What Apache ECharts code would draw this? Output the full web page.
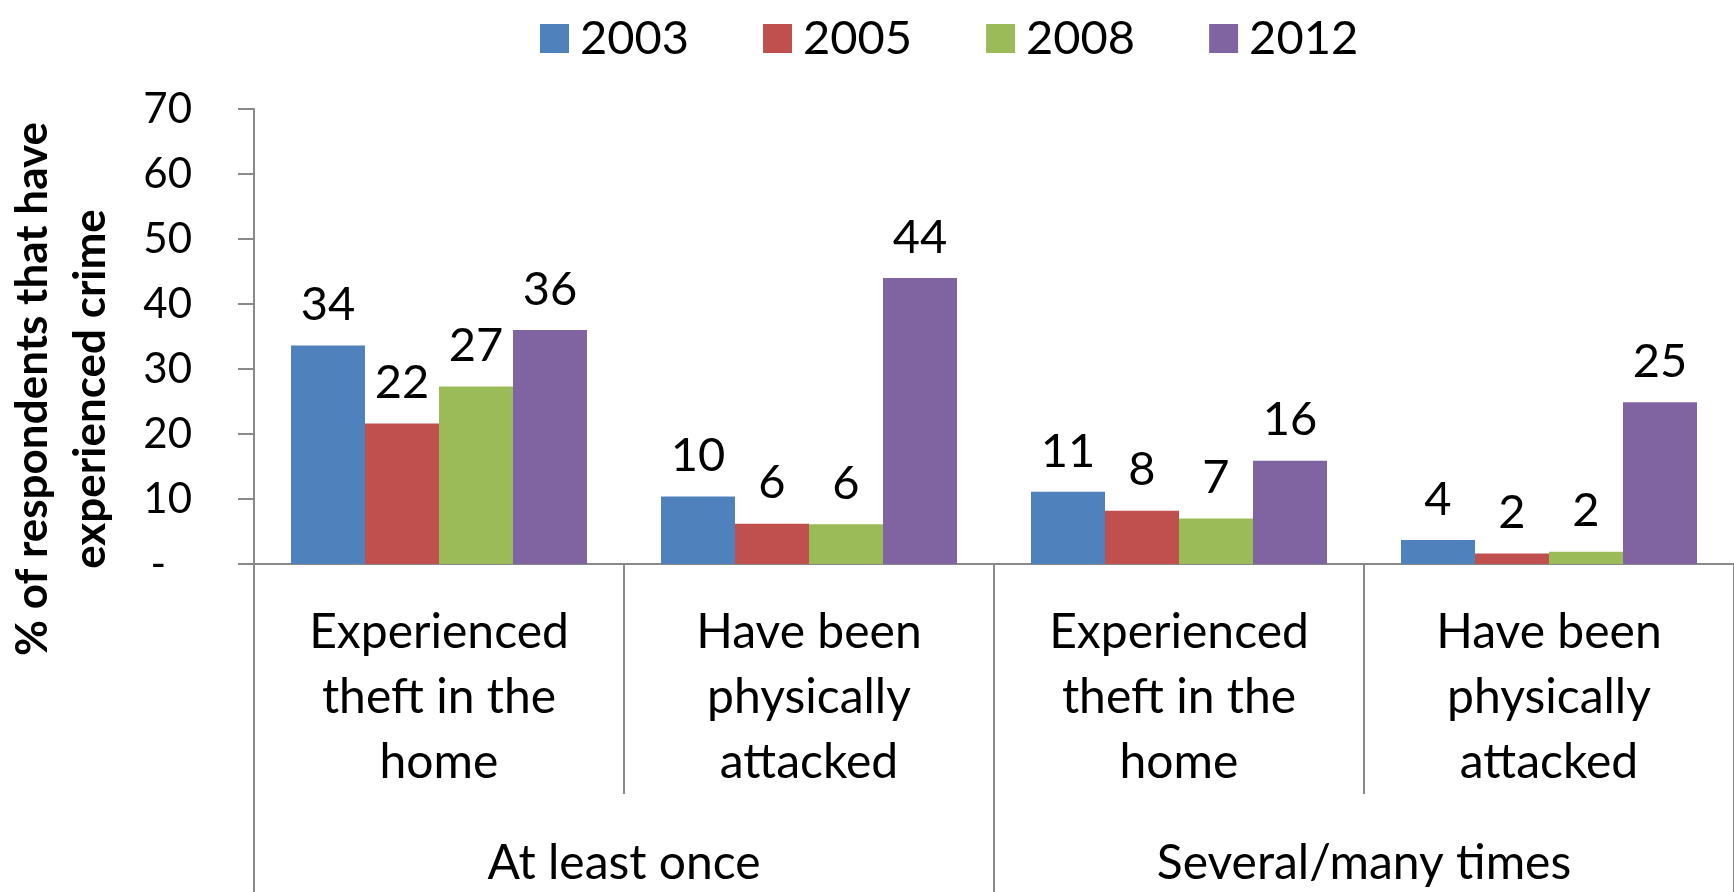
<!DOCTYPE html>
<html>
<head>
<meta charset="utf-8">
<script src="https://cdn.jsdelivr.net/npm/echarts@6/dist/echarts.min.js"></script>
<style>
html,body{margin:0;padding:0;background:#fff;}
#c{width:1734px;height:892px;}
</style>
</head>
<body>
<div id="c"></div>
<script>
const categories = ["Experienced\ntheft in the\nhome", "Have been\nphysically\nattacked", "Experienced\ntheft in the\nhome", "Have been\nphysically\nattacked"];
const groups = ["At least once", "Several/many times"];
const years = ["2003", "2005", "2008", "2012"];
const v2003 = [33.6, 10.4, 11.1, 3.7];
const v2005 = [21.6, 6.2, 8.2, 1.6];
const v2008 = [27.3, 6.1, 7.0, 1.9];
const v2012 = [36.0, 44.0, 15.9, 24.9];
const colors = ["#4F81BD", "#C0504D", "#9BBB59", "#8064A2"];
const yTitle = "% of respondents that have\nexperienced crime";

const FONT = "Lato";
const AX = "#898989";
const seriesValues = [v2003, v2005, v2008, v2012];

const chart = echarts.init(document.getElementById('c'));
chart.setOption({
  animation: false,
  textStyle: {fontFamily: FONT},
  color: colors,
  legend: {
    data: years,
    left: 535,
    top: 10,
    icon: 'rect',
    itemWidth: 29,
    itemHeight: 29,
    itemGap: 74,
    textStyle: {fontSize: 47, color: '#000', fontFamily: FONT, padding: [0, 0, 0, 6]}
  },
  grid: {left: 254, right: -12, top: 109, bottom: 328, containLabel: false},
  xAxis: [{
    type: 'category',
    data: categories,
    position: 'bottom',
    axisLine: {show: true, lineStyle: {color: AX, width: 2}},
    axisTick: {show: true, interval: 0, length: 230, lineStyle: {color: AX, width: 2}},
    axisLabel: {interval: 0, fontSize: 48, lineHeight: 65, margin: 36, color: '#000', fontFamily: FONT}
  }, {
    type: 'category',
    data: groups,
    position: 'bottom',
    offset: 0,
    axisLine: {show: false},
    axisTick: {show: true, interval: 0, length: 330, lineStyle: {color: AX, width: 2}},
    axisLabel: {interval: 0, fontSize: 48, margin: 276, color: '#000', fontFamily: FONT}
  }],
  yAxis: {
    type: 'value',
    min: 0, max: 70, interval: 10,
    axisLine: {show: true, lineStyle: {color: AX, width: 2}},
    axisTick: {show: true, length: 16, lineStyle: {color: AX, width: 2}},
    splitLine: {show: false},
    axisLabel: {
      fontSize: 42, color: '#000', margin: 62, fontFamily: FONT,
      formatter: v => v === 0 ? '{d|-}' : String(v),
      rich: {d: {fontSize: 42, color: '#000', padding: [0, 26, 0, 0], fontFamily: FONT}}
    }
  },
  graphic: [{
    type: 'text',
    x: 62, y: 389,
    rotation: Math.PI / 2,
    style: {
      text: yTitle,
      font: 'bold 44px ' + FONT,
      fill: '#000',
      align: 'center',
      verticalAlign: 'middle',
      lineHeight: 58
    }
  }],
  series: years.map((y, i) => ({
    name: y,
    type: 'bar',
    xAxisIndex: 0,
    data: seriesValues[i],
    barGap: '0%',
    barCategoryGap: '20%',
    itemStyle: {color: colors[i]},
    label: {
      show: true, position: 'top', distance: 17,
      fontSize: 47, color: '#000', fontFamily: FONT,
      formatter: p => String(Math.round(p.value))
    }
  }))
});
</script>
</body>
</html>
